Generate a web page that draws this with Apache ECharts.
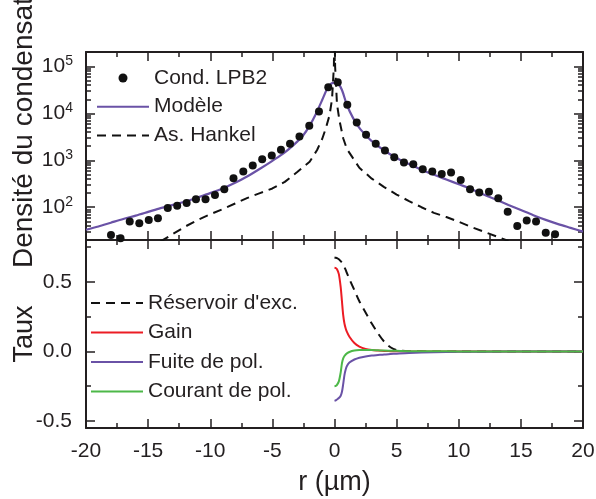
<!DOCTYPE html>
<html>
<head>
<meta charset="utf-8">
<script src="https://cdn.jsdelivr.net/npm/echarts@6/dist/echarts.min.js"></script>
<style>html,body{margin:0;padding:0;background:#fff;}#c{width:596px;height:499px;}</style>
</head>
<body>
<div id="c"></div>
<script>
// ---- Data (top panel) ----
const condX = [-17.99,-17.22,-16.48,-15.71,-14.95,-14.21,-13.42,-12.66,-11.90,-11.15,-10.38,-9.62,-8.87,-8.13,-7.34,-6.58,-5.82,-5.05,-4.31,-3.58,-2.82,-2.03,-1.25,-0.50,0.26,1.03,1.79,2.54,3.32,4.06,4.81,5.59,6.34,7.10,7.87,8.63,9.38,10.16,10.91,11.65,12.43,13.18,13.94,14.71,15.47,16.22,17.00,17.75];
const condY = [25.6,21.8,49.8,45.6,53.6,58.2,96.6,107.7,123.5,148,148,183,242,415,575,772,1057,1262,1670,2243,3208,5430,10960,36300,46400,15240,6380,3490,2243,1616,1166,896,828,647,575,514,547,382,242,205,215,156,80.5,39.9,51.8,49.3,28.7,26.5];

const modelX = [-20,-19,-18,-17,-16,-15,-14,-13,-12,-11,-10,-9,-8,-7,-6,-5,-4,-3,-2.5,-2,-1.5,-1,-0.6,-0.3,0,0.3,0.6,1.0,1.5,2.0,2.5,3.0,4.0,5.0,6.0,7.0,8.0,9.0,10,11,12,13,14,15,16,17,18,19,20];
const modelY = [33.1,38.9,46.8,56.2,66.1,79.4,95.5,112,132,162,200,251,331,457,661,977,1480,2510,3470,5500,9770,19100,33100,42700,44700,42700,31600,15100,7940,4900,3470,2570,1620,1120,832,631,490,389,309,245,186,145,112,87.1,67.6,53.7,43.7,36.3,30.2];

const hankelX = [-14,-13,-12,-11,-10,-9,-8,-7,-6,-5,-4,-3,-2,-1.4,-1,-0.7,-0.4,-0.2,-0.05,0,0.05,0.2,0.4,0.7,1.0,1.5,2.0,3.0,4.0,5.0,6.0,7.0,8.0,9.0,10,11,12,13,14];
const hankelY = [18.6,26.9,38.9,53.7,70.8,91.2,120,158,200,251,347,562,933,1660,2820,4790,9120,20000,100000,1000000,100000,15800,7080,2950,1740,1100,692,407,269,186,135,100,75.9,61.7,49.0,38.0,30.2,24.0,19.1];

const logLabelTicks = [100,1000,10000,100000];
const logMinorTicks = [30,40,50,60,70,80,90,200,300,400,500,600,700,800,900,2000,3000,4000,5000,6000,7000,8000,9000,20000,30000,40000,50000,60000,70000,80000,90000];

// ---- Data (bottom panel) ----
const tauxX = [0,0.1,0.2,0.35,0.5,0.6,0.7,0.8,0.9,1.0,1.2,1.6,2,2.5,3,3.5,4,4.5,5,6,8,10,14,20];
const reservoirY = [0.675,0.673,0.67,0.662,0.648,0.637,0.622,0.605,0.585,0.563,0.52,0.44,0.36,0.28,0.20,0.13,0.07,0.03,0.01,0.002,0,0,0,0];
const gainY = [0.60,0.598,0.59,0.555,0.46,0.36,0.26,0.20,0.165,0.14,0.105,0.06,0.035,0.018,0.01,0.006,0.003,0.002,0.001,0,0,0,0,0];
const fuiteY = [-0.355,-0.352,-0.345,-0.335,-0.318,-0.29,-0.235,-0.17,-0.13,-0.105,-0.08,-0.058,-0.045,-0.036,-0.03,-0.026,-0.022,-0.019,-0.016,-0.011,-0.006,-0.003,-0.001,0];
const courantY = [-0.25,-0.248,-0.24,-0.215,-0.15,-0.085,-0.05,-0.033,-0.022,-0.014,-0.004,0.006,0.01,0.011,0.01,0.008,0.006,0.005,0.004,0.002,0.001,0,0,0];

const tauxLabelTicks = [-0.5,0,0.5];
const tauxMinorTicks = [-0.25,0.25,0.75];

const xTicksInterval = 5;

// ---- Build ----
const FONT = "'Liberation Sans', Arial, sans-serif";
const INK = '#231f20';
const PURPLE = '#6a52a6';
const RED = '#ec1c24';
const GREEN = '#4db848';
const LBL = 21;
const zip = (xs, ys) => xs.map((x, i) => [x, ys[i]]);

const axisLine = { show: true, onZero: false, lineStyle: { color: INK, width: 2 } };
const noLine = { show: false, onZero: false };

function xAxisDef(gridIndex, position, showLabels) {
  return {
    type: 'value', gridIndex, position, min: -20, max: 20, interval: xTicksInterval,
    axisLine, splitLine: { show: false },
    axisTick: { show: true, inside: true, length: 9, lineStyle: { color: INK, width: 1.5 } },
    minorTick: { show: true, splitNumber: 2, length: 5, lineStyle: { color: INK, width: 1.5 } },
    axisLabel: { show: showLabels, fontSize: LBL, fontFamily: FONT, color: INK, margin: 13,
      formatter: v => String(v) },
  };
}

function logAxis(position, ticks, len, labels, line) {
  return {
    type: 'log', gridIndex: 0, position, min: 20, max: 204000, logBase: 10,
    axisLine: line ? axisLine : noLine,
    splitLine: { show: false },
    axisTick: { show: true, inside: true, length: len, customValues: ticks, lineStyle: { color: INK, width: 1.5 } },
    axisLabel: labels ? {
      show: true, customValues: ticks, fontSize: LBL, fontFamily: FONT, color: INK, margin: 13,
      formatter: v => '10{sup|' + Math.round(Math.log10(v)) + '}',
      rich: { sup: { fontSize: 14, fontFamily: FONT, color: INK, padding: [0, 0, 10, 0] } }
    } : { show: false },
  };
}

function tauxAxis(position, ticks, len, labels, line) {
  return {
    type: 'value', gridIndex: 1, position, min: -0.55, max: 0.8,
    axisLine: line ? axisLine : noLine,
    splitLine: { show: false },
    axisTick: { show: true, inside: true, length: len, customValues: ticks, lineStyle: { color: INK, width: 1.5 } },
    axisLabel: labels ? {
      show: true, customValues: ticks, fontSize: LBL, fontFamily: FONT, color: INK, margin: 14,
      formatter: v => (Math.abs(v) < 1e-9 ? 0 : v).toFixed(1)
    } : { show: false },
  };
}

const y4 = tauxAxis('left', tauxLabelTicks, 9, true, true);
y4.name = 'Taux';
y4.nameLocation = 'middle';
y4.nameGap = 48;
y4.nameMoveOverlap = false;
y4.nameTextStyle = { fontSize: 27, fontFamily: FONT, color: INK };

const x2 = xAxisDef(1, 'bottom', true);
x2.name = 'r (µm)';
x2.nameLocation = 'middle';
x2.nameGap = 41;
x2.nameMoveOverlap = false;
x2.nameTextStyle = { fontSize: 27, fontFamily: FONT, color: INK };

const hidden = { opacity: 0 };

const option = {
  animation: false,
  backgroundColor: '#fff',
  textStyle: { fontFamily: FONT },
  grid: [
    { left: 86, right: 13, top: 52, height: 188, containLabel: false, outerBoundsMode: 'none' },
    { left: 86, right: 13, top: 240, height: 188, containLabel: false, outerBoundsMode: 'none' },
  ],
  xAxis: [
    xAxisDef(0, 'bottom', false),
    xAxisDef(0, 'top', false),
    x2,
    xAxisDef(1, 'top', false),
  ],
  yAxis: [
    logAxis('left', logLabelTicks, 9, true, true),
    logAxis('left', logMinorTicks, 5, false, false),
    logAxis('right', logLabelTicks, 9, false, true),
    logAxis('right', logMinorTicks, 5, false, false),
    y4,
    tauxAxis('left', tauxMinorTicks, 5, false, false),
    tauxAxis('right', tauxLabelTicks, 9, false, true),
    tauxAxis('right', tauxMinorTicks, 5, false, false),
  ],
  legend: [
    {
      data: [
        { name: 'Cond. LPB2' },
        { name: 'Modèle', itemStyle: hidden },
        { name: 'As. Hankel', itemStyle: hidden },
      ],
      orient: 'vertical', left: 96, top: 67.5, padding: 0, itemWidth: 52, itemHeight: 9, itemGap: 7.7,
      textStyle: { fontSize: LBL, lineHeight: 20, fontFamily: FONT, color: INK },
      selectedMode: false,
    },
    {
      data: [
        { name: "Réservoir d'exc.", itemStyle: hidden },
        { name: 'Gain', itemStyle: hidden },
        { name: 'Fuite de pol.', itemStyle: hidden },
        { name: 'Courant de pol.', itemStyle: hidden },
      ],
      orient: 'vertical', left: 90, top: 292.5, padding: 0, itemWidth: 52, itemHeight: 9, itemGap: 8.5,
      textStyle: { fontSize: LBL, lineHeight: 20, fontFamily: FONT, color: INK },
      selectedMode: false,
    },
  ],
  graphic: [
    {
      type: 'text', x: 24, y: 268, rotation: Math.PI / 2,
      style: { text: 'Densité du condensat', fontSize: 28, fontFamily: FONT, fill: INK,
        align: 'left', verticalAlign: 'middle', textAlign: 'left', textVerticalAlign: 'middle' }
    }
  ],
  series: [
    {
      name: 'As. Hankel', type: 'line', xAxisIndex: 0, yAxisIndex: 0, data: zip(hankelX, hankelY),
      symbol: 'none', smooth: false, clip: true,
      lineStyle: { color: '#111', width: 2, type: [9, 6] }, itemStyle: { color: '#111' }, z: 2,
    },
    {
      name: 'Modèle', type: 'line', xAxisIndex: 0, yAxisIndex: 0, data: zip(modelX, modelY),
      symbol: 'none', smooth: 0.3, clip: true,
      lineStyle: { color: PURPLE, width: 2.2 }, itemStyle: { color: PURPLE }, z: 3,
    },
    {
      name: 'Cond. LPB2', type: 'scatter', xAxisIndex: 0, yAxisIndex: 0, data: zip(condX, condY),
      symbol: 'circle', symbolSize: 8, clip: true, itemStyle: { color: '#111', opacity: 1 }, z: 4,
    },
    {
      name: "Réservoir d'exc.", type: 'line', xAxisIndex: 2, yAxisIndex: 4, data: zip(tauxX, reservoirY),
      symbol: 'none', smooth: 0.3, lineStyle: { color: '#111', width: 2, type: [9, 6] }, itemStyle: { color: '#111' }, z: 2,
    },
    {
      name: 'Gain', type: 'line', xAxisIndex: 2, yAxisIndex: 4, data: zip(tauxX, gainY),
      symbol: 'none', smooth: 0.3, lineStyle: { color: RED, width: 2 }, itemStyle: { color: RED }, z: 3,
    },
    {
      name: 'Fuite de pol.', type: 'line', xAxisIndex: 2, yAxisIndex: 4, data: zip(tauxX, fuiteY),
      symbol: 'none', smooth: 0.3, lineStyle: { color: PURPLE, width: 2 }, itemStyle: { color: PURPLE }, z: 3,
    },
    {
      name: 'Courant de pol.', type: 'line', xAxisIndex: 2, yAxisIndex: 4, data: zip(tauxX, courantY),
      symbol: 'none', smooth: 0.3, lineStyle: { color: GREEN, width: 2 }, itemStyle: { color: GREEN }, z: 4,
    },
  ],
};

const chart = echarts.init(document.getElementById('c'), null, { renderer: 'canvas' });
chart.setOption(option);
</script>
</body>
</html>
